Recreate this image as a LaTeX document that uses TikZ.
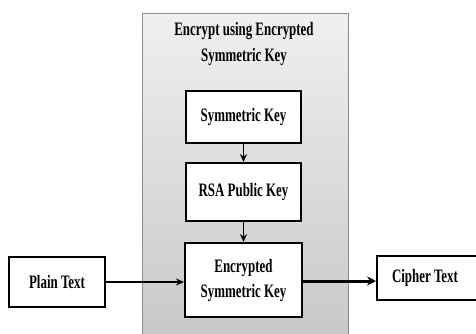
\documentclass[tikz,border=0pt]{standalone}
\usepackage{fontspec}
\newfontfamily\cf{Liberation Serif}[FakeStretch=0.68]
\usetikzlibrary{arrows.meta}
\begin{document}
\begin{tikzpicture}[x=1pt,y=-1pt,
  box/.style={draw=black,line width=2pt,fill=white,inner sep=0pt,align=center,
    font=\cf\bfseries\fontsize{19}{25}\selectfont},
  arr/.style={-{Stealth[length=8pt,width=7pt]},line width=1.8pt},
  tarr/.style={-{Stealth[length=9pt,width=9pt]},line width=3pt}]
\useasboundingbox (0,0) rectangle (476,333);
\fill[white] (0,0) rectangle (476,333);
\begin{scope}
\clip (0,0) rectangle (476,333);
\shade[top color=black!6,bottom color=black!22,draw=black!45,line width=0.8pt]
  (142,13) rectangle (348,345);
\node[font=\cf\bfseries\fontsize{19}{26}\selectfont,align=center] (title) at (244,44)
  {Encrypt using Encrypted\\Symmetric Key};
\node[box,minimum width=115pt,minimum height=52pt] (sym) at (243.5,117) {Symmetric Key};
\node[box,minimum width=115pt,minimum height=58pt] (rsa) at (243.5,192) {RSA Public Key};
\node[box,minimum width=117pt,minimum height=74pt] (enc) at (243.5,280) {Encrypted\\Symmetric Key};
\node[box,minimum width=96pt,minimum height=50pt] (plain) at (57,282) {Plain Text};
\node[box,minimum width=110pt,minimum height=44pt,anchor=west] (cipher) at (376,278) {\hspace*{-14pt}Cipher Text};
\draw[arr] (sym) -- (rsa);
\draw[arr] (rsa) -- (enc);
\draw[arr] (plain.east) -- (plain.east -| enc.west);
\draw[tarr] (enc.east |- 0,281) -- (cipher.west |- 0,281);
\end{scope}
\end{tikzpicture}
\end{document}
